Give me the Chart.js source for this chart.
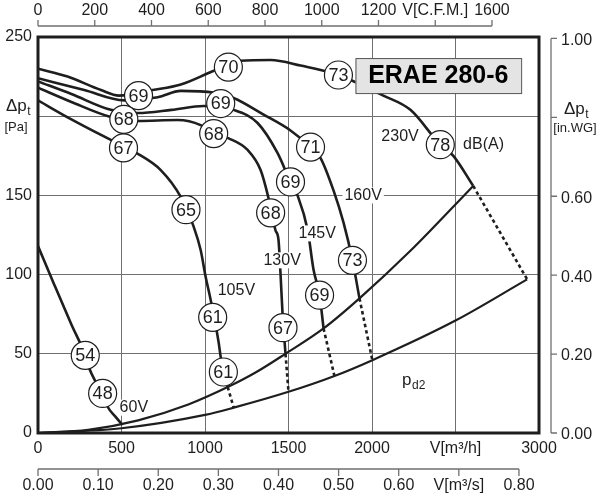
<!DOCTYPE html>
<html>
<head>
<meta charset="utf-8">
<script src="https://cdn.jsdelivr.net/npm/chart.js@4.4.0/dist/chart.umd.min.js"></script>
<style>
  html, body { margin: 0; padding: 0; background: #fff; }
</style>
</head>
<body>
<canvas id="chart" width="600" height="500"></canvas>
<script>
// axis ticks
var flowTicks = [0, 500, 1000, 1500, 2000, 2500, 3000];   // m3/h
var presTicks = [0, 50, 100, 150, 200, 250];              // Pa
var cfmTicks = [0, 200, 400, 600, 800, 1000, 1200, 1400, 1600];
var inwgTicks = [0, 0.2, 0.4, 0.6, 0.8, 1.0];
var m3sTicks = [0, 0.1, 0.2, 0.3, 0.4, 0.5, 0.6, 0.7, 0.8];

// fan curves, V [m3/h] / dp [Pa]
var v230Flow = [0, 177, 377, 485, 686, 855, 1053, 1213, 1393, 1572, 1799, 2068, 2230, 2409, 2487, 2606];
var v230Pres = [230, 225, 216.5, 213, 216.5, 220, 228.7, 235, 235.5, 232, 226, 213, 204, 182, 175, 156];
var v160Flow = [0, 277, 516, 717, 855, 1052, 1171, 1351, 1512, 1632, 1692, 1770, 1830, 1883, 1925];
var v160Pres = [224, 216.5, 210, 212, 216, 215, 211.5, 201, 191, 180.5, 173.6, 153, 132.6, 109, 85];
var v145Flow = [0, 200, 436, 598, 800, 992, 1171, 1315, 1434, 1512, 1554, 1615, 1650, 1686, 1710];
var v145Pres = [222, 214, 204, 202, 204, 206.4, 204, 195.7, 176.8, 158.5, 150, 128, 103, 87, 66];
var v130Flow = [0, 200, 436, 598, 836, 974, 1052, 1142, 1255, 1333, 1381, 1422, 1440, 1452, 1464, 1482];
var v130Pres = [218, 209, 199.5, 197, 197.6, 194.4, 189, 186, 178.7, 166, 148, 128, 122, 101, 76, 50];
var v105Flow = [0, 200, 436, 586, 735, 855, 933, 974, 1004, 1034, 1082, 1094, 1136];
var v105Pres = [210, 198, 185, 177, 166, 149, 130, 115.5, 98.5, 84, 57, 48, 29];
var v60Flow = [0, 100, 200, 283, 306, 347, 387, 418, 466, 506];
var v60Pres = [118, 93, 68.5, 49, 41, 32, 25, 16.4, 10, 5];

// dashed continuations down to the lower system line
var dash230Flow = [2606, 2929], dash230Pres = [156, 97];
var dash160Flow = [1925, 2002], dash160Pres = [85, 46];
var dash145Flow = [1710, 1775], dash145Pres = [66, 36];
var dash130Flow = [1482, 1500], dash130Pres = [50, 26];
var dash105Flow = [1136, 1172], dash105Pres = [29, 16];

// system lines
var sysHighFlow = [0, 300, 600, 900, 1136, 1300, 1482, 1710, 1925, 2230, 2606];
var sysHighPres = [0, 2, 8, 18, 29, 38, 50, 66, 85, 115, 156];
var sysLowFlow = [0, 500, 1000, 1172, 1500, 1775, 2002, 2500, 2929];
var sysLowPres = [0, 3, 11.4, 16, 26, 36, 46, 71, 97];

// sound levels dB(A)
var dbValues = [69, 70, 73, 78, 69, 71, 73, 68, 69, 69, 68, 68, 67, 67, 65, 61, 61, 54, 48];
var dbFlow = [602, 1140, 1799, 2409, 1094, 1632, 1883, 514, 1512, 1686, 1052, 1393, 1467, 512, 886, 1046, 1110, 283, 387];
var dbPres = [213, 231, 226, 182, 208, 180.5, 109, 198, 158.5, 87, 189, 139, 66.5, 180, 141, 73, 38.5, 49, 25];

var FONT = '"Liberation Sans", Arial, Helvetica, sans-serif';
var INK = '#1e1e1e';
var AXIS_GRAY = '#707070';
var M3H_PER_CFM = 1.699;
var PA_PER_INWG = 249.09;

function pts(xs, ys) {
  return xs.map(function (x, i) { return { x: x, y: ys[i] }; });
}

function curve(xs, ys, dashed, width) {
  return {
    type: 'line',
    data: pts(xs, ys),
    borderColor: INK,
    borderWidth: width || 2.6,
    borderDash: dashed ? [3.5, 3] : [],
    pointRadius: 0,
    fill: false,
    cubicInterpolationMode: 'monotone',
    order: 2
  };
}

function subText(ctx, main, sub, cx, cy, size) {
  var small = Math.round(size * 0.68);
  ctx.font = size + 'px ' + FONT;
  var w1 = ctx.measureText(main).width;
  ctx.font = small + 'px ' + FONT;
  var w2 = ctx.measureText(sub).width;
  var x0 = cx - (w1 + w2) / 2;
  ctx.textAlign = 'left';
  ctx.textBaseline = 'middle';
  ctx.font = size + 'px ' + FONT;
  ctx.fillText(main, x0, cy);
  ctx.font = small + 'px ' + FONT;
  ctx.fillText(sub, x0 + w1 + 0.5, cy + size * 0.32);
}

var textNotes = [
  { t: '60V', x: 574, y: 16 },
  { t: '105V', x: 1188, y: 90 },
  { t: '130V', x: 1462, y: 109 },
  { t: '145V', x: 1672, y: 126 },
  { t: '160V', x: 1947, y: 150 },
  { t: '230V', x: 2168, y: 187 },
  { t: 'dB(A)', x: 2668, y: 182 }
];

var decorations = {
  id: 'decorations',
  afterDatasetsDraw: function (chart) {
    var ctx = chart.ctx, xs = chart.scales.x, ys = chart.scales.y, a = chart.chartArea;
    ctx.save();

    // numbers inside the sound level circles
    var meta = chart.getDatasetMeta(0);
    ctx.fillStyle = INK;
    ctx.font = '18px ' + FONT;
    ctx.textAlign = 'center';
    ctx.textBaseline = 'middle';
    meta.data.forEach(function (el, i) {
      ctx.fillText(String(dbValues[i]), el.x, el.y + 1);
    });

    // voltage notes on white background
    ctx.font = '16px ' + FONT;
    textNotes.forEach(function (n) {
      var px = xs.getPixelForValue(n.x), py = ys.getPixelForValue(n.y);
      var w = ctx.measureText(n.t).width;
      ctx.fillStyle = '#fff';
      ctx.fillRect(px - w / 2 - 2, py - 8, w + 4, 16);
      ctx.fillStyle = INK;
      ctx.textAlign = 'center';
      ctx.textBaseline = 'middle';
      ctx.fillText(n.t, px, py);
    });
    ctx.fillStyle = INK;
    subText(ctx, 'p', 'd2', xs.getPixelForValue(2248), ys.getPixelForValue(33), 17);

    // model box
    var bx0 = xs.getPixelForValue(1901), bx1 = xs.getPixelForValue(2893);
    var by0 = ys.getPixelForValue(236.7), by1 = ys.getPixelForValue(214.6);
    ctx.fillStyle = '#e4e4e4';
    ctx.fillRect(bx0, by0, bx1 - bx0, by1 - by0);
    ctx.strokeStyle = '#555';
    ctx.lineWidth = 1;
    ctx.strokeRect(bx0 + 0.5, by0 + 0.5, bx1 - bx0, by1 - by0);
    ctx.fillStyle = '#000';
    ctx.font = 'bold 25px ' + FONT;
    ctx.textAlign = 'center';
    ctx.textBaseline = 'middle';
    ctx.fillText('ERAE 280-6', (bx0 + bx1) / 2, (by0 + by1) / 2 + 1);

    // plot frame
    ctx.strokeStyle = INK;
    ctx.lineWidth = 3;
    ctx.strokeRect(a.left, a.top, a.right - a.left, a.bottom - a.top);

    // secondary axes
    ctx.strokeStyle = AXIS_GRAY;
    ctx.lineWidth = 1.3;
    ctx.fillStyle = INK;
    ctx.font = '16px ' + FONT;

    // top: CFM
    var yT = a.top - 11;
    ctx.beginPath();
    ctx.moveTo(xs.getPixelForValue(0), yT);
    ctx.lineTo(xs.getPixelForValue(cfmTicks[cfmTicks.length - 1] * M3H_PER_CFM), yT);
    cfmTicks.forEach(function (v) {
      var px = xs.getPixelForValue(v * M3H_PER_CFM);
      ctx.moveTo(px, yT);
      ctx.lineTo(px, yT - 6);
    });
    ctx.stroke();
    ctx.textAlign = 'center';
    ctx.textBaseline = 'middle';
    cfmTicks.forEach(function (v) {
      var px = xs.getPixelForValue(v * M3H_PER_CFM);
      ctx.fillText(v === 1400 ? 'V[C.F.M.]' : String(v), px, yT - 15);
    });

    // bottom: m3/s
    var yB = a.bottom + 36;
    ctx.beginPath();
    ctx.moveTo(xs.getPixelForValue(0), yB);
    ctx.lineTo(xs.getPixelForValue(m3sTicks[m3sTicks.length - 1] * 3600), yB);
    m3sTicks.forEach(function (v) {
      var px = xs.getPixelForValue(v * 3600);
      ctx.moveTo(px, yB);
      ctx.lineTo(px, yB + 7);
    });
    ctx.stroke();
    m3sTicks.forEach(function (v) {
      var px = xs.getPixelForValue(v * 3600);
      ctx.fillText(Math.abs(v - 0.7) < 1e-9 ? 'V[m\u00b3/s]' : v.toFixed(2), px, yB + 17);
    });

    // right: in.WG
    var xR = a.right + 12;
    ctx.beginPath();
    ctx.moveTo(xR, ys.getPixelForValue(0));
    ctx.lineTo(xR, ys.getPixelForValue(inwgTicks[inwgTicks.length - 1] * PA_PER_INWG));
    inwgTicks.forEach(function (v) {
      var py = ys.getPixelForValue(v * PA_PER_INWG);
      ctx.moveTo(xR, py);
      ctx.lineTo(xR + 6, py);
    });
    ctx.stroke();
    ctx.textAlign = 'left';
    inwgTicks.forEach(function (v) {
      if (Math.abs(v - 0.8) < 1e-9) return;
      var py = ys.getPixelForValue(v * PA_PER_INWG);
      ctx.fillText(v.toFixed(2), xR + 10, py + 2);
    });
    var py08 = ys.getPixelForValue(0.8 * PA_PER_INWG);
    subText(ctx, '\u0394p', 't', xR + 25, py08 - 8, 17);
    ctx.font = '13px ' + FONT;
    ctx.textAlign = 'center';
    ctx.fillText('[in.WG]', xR + 24, py08 + 11);

    // left axis title in place of 200
    var py200 = ys.getPixelForValue(200);
    subText(ctx, '\u0394p', 't', 18, py200 - 10, 17);
    ctx.font = '13px ' + FONT;
    ctx.textAlign = 'center';
    ctx.fillText('[Pa]', 16, py200 + 11);

    ctx.restore();
  }
};

new Chart(document.getElementById('chart'), {
  type: 'scatter',
  data: {
    datasets: [
      {
        type: 'scatter',
        data: pts(dbFlow, dbPres),
        pointRadius: 14,
        pointBackgroundColor: '#fff',
        pointBorderColor: INK,
        pointBorderWidth: 1.2,
        order: 0
      },
      curve(v230Flow, v230Pres),
      curve(v160Flow, v160Pres),
      curve(v145Flow, v145Pres),
      curve(v130Flow, v130Pres),
      curve(v105Flow, v105Pres),
      curve(v60Flow, v60Pres),
      curve(dash230Flow, dash230Pres, true),
      curve(dash160Flow, dash160Pres, true),
      curve(dash145Flow, dash145Pres, true),
      curve(dash130Flow, dash130Pres, true),
      curve(dash105Flow, dash105Pres, true),
      curve(sysHighFlow, sysHighPres, false, 2.2),
      curve(sysLowFlow, sysLowPres, false, 2.2)
    ]
  },
  options: {
    responsive: false,
    animation: false,
    layout: { padding: { top: 37, right: 61, left: 0, bottom: 0 } },
    plugins: { legend: { display: false }, tooltip: { enabled: false } },
    scales: {
      x: {
        type: 'linear',
        min: 0,
        max: 3000,
        afterFit: function (s) { s.height = 67; },
        afterBuildTicks: function (s) { s.ticks = flowTicks.map(function (v) { return { value: v }; }); },
        grid: { color: AXIS_GRAY, lineWidth: 1, drawTicks: false },
        border: { display: false },
        ticks: {
          padding: 6,
          color: INK,
          maxRotation: 0,
          autoSkip: false,
          font: { family: FONT, size: 16 },
          callback: function (v) { return v === 2500 ? 'V[m\u00b3/h]' : String(v); }
        }
      },
      y: {
        type: 'linear',
        min: 0,
        max: 250,
        afterFit: function (s) { s.width = 38; },
        afterBuildTicks: function (s) { s.ticks = presTicks.map(function (v) { return { value: v }; }); },
        grid: { color: AXIS_GRAY, lineWidth: 1, drawTicks: false },
        border: { display: false },
        ticks: {
          padding: 6,
          color: INK,
          font: { family: FONT, size: 16 },
          callback: function (v) { return v === 200 ? '' : String(v); }
        }
      }
    }
  },
  plugins: [decorations]
});
</script>
</body>
</html>
